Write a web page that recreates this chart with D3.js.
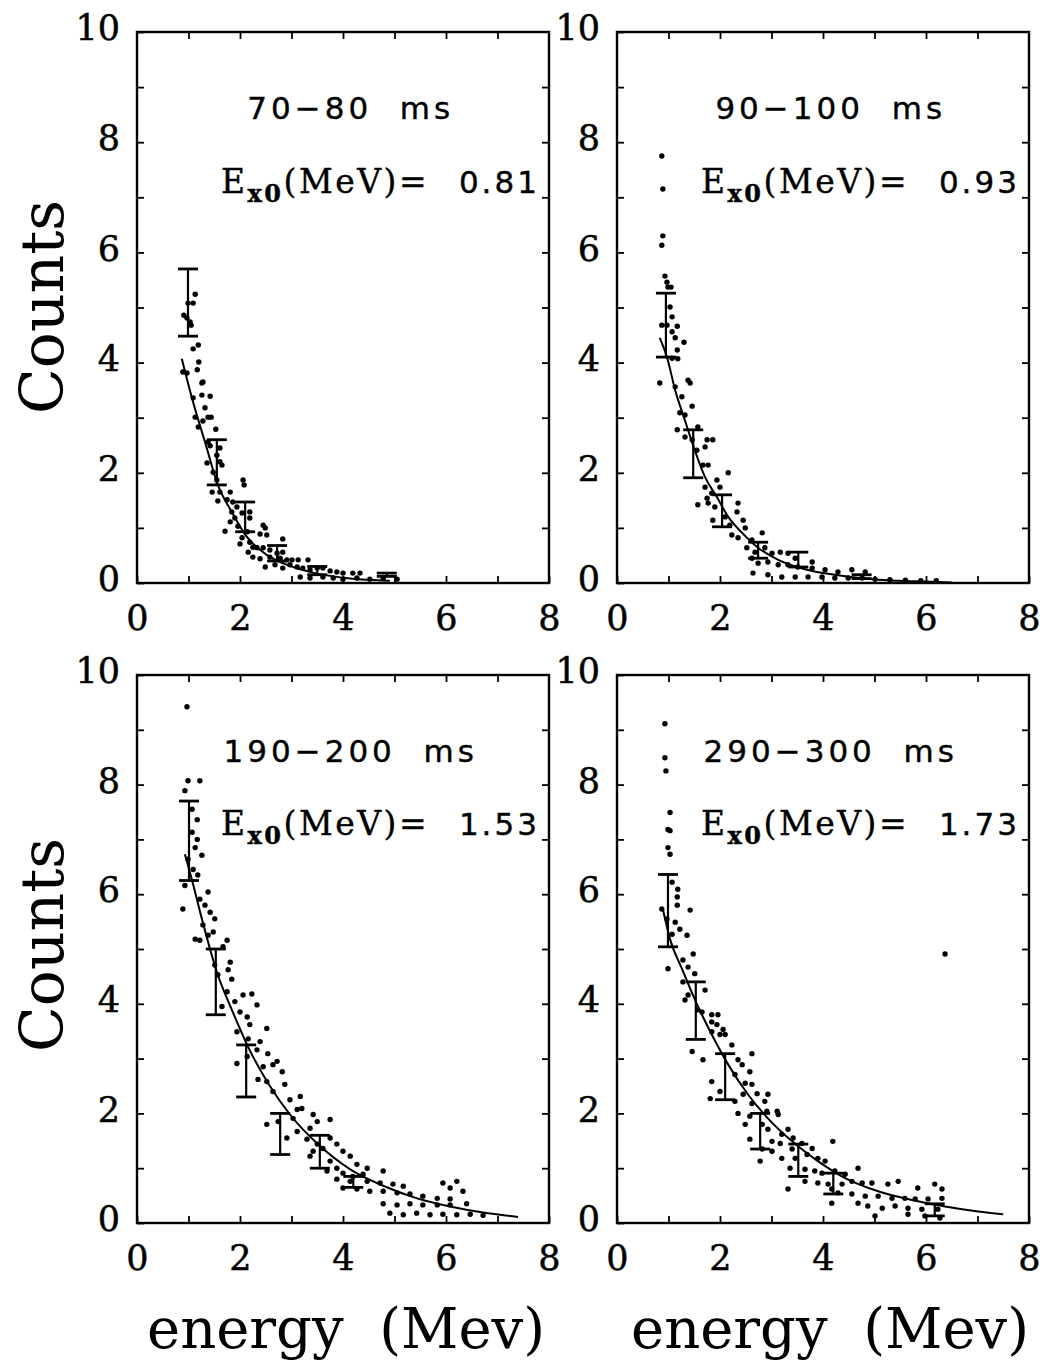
<!DOCTYPE html>
<html>
<head>
<meta charset="utf-8">
<script src="https://cdn.jsdelivr.net/npm/d3@7"></script>
<style>
  body { margin: 0; background: #fff; }
  text { fill: #000; white-space: pre; }
</style>
</head>
<body>
<div id="chart"></div>
<script>
// panel titles and fitted slope values
const titles = ["70\u221280  ms", "90\u2212100  ms", "190\u2212200  ms", "290\u2212300  ms"];
const e0Values = ["0.81", "0.93", "1.53", "1.73"];
const xTickLabels = [0, 2, 4, 6, 8];
const yTickLabels = [0, 2, 4, 6, 8, 10];

// 70-80 ms : [energy, counts]
const dots70 = [[1.13,5.24],[1.09,5.08],[0.99,5.08],[0.91,4.86],[1.03,4.74],[1.05,4.68],[0.97,4.81],[1.19,4.32],[1.09,4.25],[1.20,4.01],[1.17,3.87],[0.89,3.83],[0.97,3.81],[1.28,3.65],[1.26,3.63],[1.26,3.41],[1.42,3.39],[1.09,3.36],[1.32,3.18],[1.13,3.01],[1.38,3.01],[1.44,3.01],[1.28,2.94],[1.19,2.83],[1.53,2.79],[1.38,2.56],[1.42,2.49],[1.61,2.45],[1.55,2.32],[1.61,2.20],[1.36,2.18],[1.65,2.14],[1.48,2.01],[1.55,1.87],[2.06,1.87],[2.08,1.78],[1.46,1.65],[1.61,1.65],[1.81,1.65],[1.57,1.49],[1.75,1.51],[1.86,1.47],[1.94,1.38],[2.04,1.27],[1.84,1.29],[1.90,1.18],[1.81,1.11],[2.19,1.18],[2.19,1.29],[1.96,1.03],[1.71,0.94],[2.45,1.05],[2.49,1.00],[2.14,0.93],[2.39,0.89],[2.52,0.87],[2.04,0.82],[2.19,0.74],[2.00,0.71],[2.83,0.80],[2.25,0.65],[2.33,0.64],[2.45,0.64],[2.58,0.60],[2.16,0.56],[2.72,0.54],[2.83,0.56],[2.25,0.47],[2.39,0.44],[2.58,0.47],[2.78,0.45],[2.91,0.42],[3.01,0.42],[3.13,0.42],[3.32,0.42],[2.49,0.29],[2.68,0.33],[2.83,0.27],[2.97,0.33],[3.11,0.29],[3.22,0.27],[3.36,0.24],[3.50,0.27],[3.61,0.27],[3.75,0.22],[3.88,0.20],[4.00,0.18],[4.19,0.18],[4.33,0.18],[3.17,0.11],[3.36,0.09],[3.61,0.11],[3.81,0.09],[4.00,0.07],[4.27,0.09],[4.52,0.07],[4.78,0.09],[5.05,0.07]];
const curve70 = [[0.87,4.07],[1.09,3.28],[1.32,2.56],[1.57,1.78],[1.84,1.29],[2.13,0.84],[2.52,0.51],[2.97,0.31],[3.50,0.17],[4.14,0.08],[4.91,0.04]];
const bars70 = [[0.99,4.48,5.70],[1.55,1.78,2.60],[2.10,0.93,1.47],[2.72,0.40,0.68],[3.50,0.15,0.30],[4.85,0.12,0.18]];

// 90-100 ms
const dots90 = [[0.87,7.75],[0.89,7.15],[0.89,6.30],[0.87,6.13],[0.93,5.57],[0.97,5.46],[0.99,5.37],[1.05,5.37],[1.03,5.01],[1.07,4.83],[0.97,4.68],[1.17,4.66],[0.87,4.68],[1.07,4.56],[1.13,4.45],[1.30,4.37],[1.17,4.23],[1.18,4.07],[1.07,4.08],[0.83,3.63],[1.38,3.68],[1.42,3.63],[1.13,3.56],[1.26,3.38],[1.46,3.21],[1.22,3.09],[1.32,3.05],[1.17,2.78],[1.57,2.83],[1.32,2.65],[1.46,2.60],[1.75,2.60],[1.86,2.60],[1.71,2.47],[1.55,2.41],[1.67,2.14],[1.77,2.14],[2.16,2.00],[1.94,1.87],[1.71,1.74],[2.00,1.74],[1.84,1.63],[1.57,1.42],[1.75,1.54],[1.77,1.45],[1.90,1.38],[2.35,1.45],[2.33,1.29],[1.86,1.14],[2.10,1.20],[2.19,1.05],[2.45,1.14],[2.49,1.00],[2.23,0.87],[2.35,0.82],[2.62,0.78],[2.82,0.91],[2.52,0.64],[2.68,0.56],[2.87,0.64],[3.01,0.54],[3.17,0.56],[3.32,0.54],[3.46,0.45],[3.79,0.38],[2.62,0.45],[2.74,0.36],[2.93,0.38],[3.13,0.33],[3.32,0.33],[3.51,0.29],[3.79,0.27],[4.04,0.24],[4.29,0.20],[4.56,0.24],[4.82,0.20],[2.64,0.18],[2.93,0.15],[3.20,0.11],[3.46,0.11],[3.71,0.11],[3.98,0.11],[4.23,0.09],[4.49,0.09],[4.76,0.09],[5.01,0.07],[5.30,0.06],[5.60,0.05],[5.90,0.04],[6.20,0.04]];
const curve90 = [[0.83,4.45],[0.97,4.10],[1.13,3.50],[1.32,2.95],[1.51,2.41],[1.71,1.92],[1.94,1.56],[2.16,1.20],[2.43,0.91],[2.74,0.64],[3.13,0.42],[3.65,0.25],[4.29,0.14],[5.07,0.06],[5.80,0.03],[6.50,0.01]];
const bars90 = [[0.95,4.10,5.26],[1.48,1.91,2.78],[2.04,1.02,1.60],[2.74,0.45,0.74],[3.52,0.29,0.56],[4.75,0.08,0.15]];

// 190-200 ms
const dots190 = [[0.97,9.42],[0.99,8.07],[1.22,8.07],[0.93,7.89],[1.07,7.55],[1.17,7.36],[1.07,7.13],[1.17,7.00],[1.13,6.85],[1.26,6.71],[0.99,6.64],[1.09,6.45],[1.18,6.35],[0.93,6.16],[1.38,6.04],[1.22,5.91],[1.32,5.80],[0.89,5.73],[1.42,5.67],[1.51,5.55],[1.28,5.44],[1.48,5.31],[1.38,5.25],[1.13,5.18],[1.22,5.16],[1.75,5.16],[1.67,5.04],[1.81,4.76],[1.51,4.71],[1.77,4.62],[1.57,4.53],[1.84,4.45],[1.75,4.22],[2.06,4.16],[2.23,4.18],[1.65,3.95],[1.90,4.04],[2.33,3.98],[2.00,3.85],[2.14,3.76],[2.19,3.62],[2.52,3.55],[1.94,3.49],[2.16,3.36],[2.39,3.31],[2.33,3.16],[2.54,3.09],[2.14,3.04],[2.72,2.95],[1.94,2.91],[2.45,2.85],[2.64,2.89],[2.82,2.76],[2.35,2.62],[2.52,2.58],[2.87,2.53],[3.17,2.31],[2.64,2.40],[2.97,2.25],[3.11,2.07],[2.52,1.80],[2.74,1.85],[3.03,1.91],[3.20,2.09],[3.42,1.98],[3.50,1.85],[3.36,1.73],[3.75,1.89],[3.11,1.67],[2.91,1.55],[3.30,1.53],[3.50,1.44],[3.42,1.31],[3.61,1.36],[3.75,1.55],[3.88,1.44],[4.00,1.31],[4.14,1.22],[3.36,1.22],[3.75,1.13],[3.88,1.00],[4.27,1.07],[4.47,1.00],[4.78,0.95],[3.69,0.95],[4.00,0.91],[4.19,0.85],[4.39,0.89],[3.88,0.80],[4.14,0.76],[4.47,0.76],[4.72,0.73],[4.97,0.71],[5.17,0.67],[4.00,0.64],[4.27,0.62],[4.52,0.58],[4.78,0.58],[5.05,0.55],[5.30,0.53],[5.55,0.49],[5.83,0.45],[6.08,0.44],[5.94,0.73],[6.21,0.76],[6.08,0.64],[6.33,0.58],[4.78,0.35],[5.05,0.33],[5.30,0.35],[5.55,0.33],[5.83,0.33],[6.08,0.33],[6.40,0.35],[4.91,0.18],[5.17,0.15],[5.43,0.18],[5.69,0.15],[5.94,0.16],[6.21,0.15],[6.47,0.16],[6.72,0.14]];
const curve190 = [[0.93,6.73],[1.07,6.25],[1.26,5.55],[1.55,4.58],[1.86,3.85],[2.19,3.15],[2.58,2.50],[2.97,1.98],[3.50,1.45],[4.14,0.98],[4.78,0.68],[5.44,0.45],[6.08,0.30],[6.72,0.19],[7.40,0.11]];
const bars190 = [[1.01,6.25,7.70],[1.53,3.80,5.00],[2.12,2.30,3.25],[2.78,1.25,2.00],[3.55,1.00,1.60],[4.20,0.65,0.85]];

// 290-300 ms
const dots290 = [[0.93,9.11],[0.93,8.49],[0.95,8.25],[1.03,7.49],[0.99,7.18],[1.03,7.16],[0.99,6.85],[1.03,6.73],[1.07,6.22],[1.18,6.09],[1.17,5.95],[1.17,5.80],[1.42,5.71],[0.87,5.73],[0.97,5.55],[1.13,5.49],[1.22,5.36],[1.36,5.25],[1.07,5.27],[1.48,4.91],[1.28,4.80],[0.99,4.64],[1.38,4.67],[1.51,4.55],[1.28,4.40],[1.71,4.25],[1.38,4.16],[1.32,4.07],[1.57,3.89],[1.65,3.85],[1.84,3.80],[1.96,3.80],[1.84,3.67],[1.94,3.62],[2.06,3.53],[1.84,3.49],[2.10,3.44],[2.00,3.44],[2.23,3.25],[1.46,3.13],[1.67,2.98],[2.62,3.09],[2.35,2.98],[2.43,2.89],[2.58,2.76],[1.84,2.58],[2.29,2.71],[2.49,2.55],[2.62,2.53],[2.00,2.40],[1.81,2.27],[2.45,2.35],[2.72,2.36],[2.93,2.35],[2.29,2.22],[2.62,2.18],[2.87,2.22],[2.91,2.04],[3.11,2.04],[3.13,1.98],[2.35,2.00],[2.58,1.95],[2.82,1.80],[2.49,1.80],[2.93,1.71],[3.32,1.71],[3.20,1.62],[2.58,1.53],[3.42,1.55],[3.01,1.49],[3.17,1.45],[3.59,1.45],[2.82,1.35],[3.01,1.31],[3.40,1.35],[3.79,1.36],[4.19,1.49],[2.78,1.13],[3.20,1.18],[3.46,1.18],[3.69,1.25],[3.90,1.18],[4.04,1.13],[3.36,1.00],[3.65,0.98],[3.84,0.95],[3.98,0.91],[4.23,0.95],[4.43,0.89],[4.68,1.00],[3.65,0.76],[3.90,0.73],[4.10,0.71],[4.37,0.71],[4.56,0.76],[4.76,0.73],[4.95,0.73],[5.26,0.71],[5.46,0.76],[5.84,0.64],[6.17,0.71],[6.31,0.62],[3.32,0.62],[4.17,0.62],[4.29,0.55],[4.56,0.53],[4.82,0.49],[5.07,0.49],[5.34,0.45],[5.59,0.45],[5.79,0.44],[6.04,0.44],[6.31,0.45],[4.17,0.36],[4.68,0.36],[4.87,0.31],[5.15,0.27],[5.40,0.31],[5.65,0.27],[5.92,0.25],[6.23,0.25],[5.01,0.13],[5.65,0.16],[5.98,0.13],[6.27,0.09],[6.37,4.91]];
const curve290 = [[0.89,5.73],[1.03,5.18],[1.26,4.64],[1.53,4.04],[1.84,3.44],[2.16,2.89],[2.54,2.35],[2.93,1.91],[3.40,1.49],[3.90,1.13],[4.43,0.82],[5.07,0.58],[5.73,0.42],[6.37,0.30],[7.01,0.21],[7.50,0.16]];
const bars290 = [[0.99,5.04,6.36],[1.53,3.35,4.40],[2.10,2.25,3.09],[2.78,1.35,2.00],[3.52,0.85,1.44],[4.20,0.53,0.91],[6.17,0.13,0.35]];

const serif = "'DejaVu Serif', serif";
const sans = "'DejaVu Sans', sans-serif";

// frame boxes in page pixels
const panelW = 412;
const panels = [
    { title: titles[0], e0: e0Values[0], dots: dots70, curve: curve70, bars: bars70, left: 137, top: 32, h: 551 },
    { title: titles[1], e0: e0Values[1], dots: dots90, curve: curve90, bars: bars90, left: 617, top: 32, h: 551 },
    { title: titles[2], e0: e0Values[2], dots: dots190, curve: curve190, bars: bars190, left: 137, top: 675, h: 548 },
    { title: titles[3], e0: e0Values[3], dots: dots290, curve: curve290, bars: bars290, left: 617, top: 675, h: 548 },
];

const svg = d3.select("#chart")
    .append("svg")
    .attr("width", 1050)
    .attr("height", 1368);

svg.append("rect").attr("width", 1050).attr("height", 1368).attr("fill", "#fff");

panels.forEach(p => {
    const x = d3.scaleLinear().domain([0, 8]).range([0, panelW]);
    const y = d3.scaleLinear().domain([0, 10]).range([p.h, 0]);

    const g = svg.append("g")
        .attr("transform", `translate(${p.left},${p.top})`);

    // inward ticks on all four sides
    const fmt = vals => d => vals.includes(d) ? d : "";
    g.append("g")
        .attr("transform", `translate(0,${p.h})`)
        .call(d3.axisBottom(x).tickValues(d3.range(0, 9)).tickSize(-7).tickPadding(22).tickFormat(fmt(xTickLabels)));
    g.append("g")
        .call(d3.axisTop(x).tickValues(d3.range(1, 8)).tickSize(-7).tickFormat(""));
    g.append("g")
        .call(d3.axisLeft(y).tickValues(d3.range(0, 11)).tickSize(-7).tickPadding(17).tickFormat(fmt(yTickLabels)));
    g.append("g")
        .attr("transform", `translate(${panelW},0)`)
        .call(d3.axisRight(y).tickValues(d3.range(1, 10)).tickSize(-7).tickFormat(""));

    g.selectAll(".domain").remove();
    g.selectAll(".tick line").attr("stroke", "#000").attr("stroke-width", 1.8);
    g.selectAll(".tick text")
        .attr("fill", "#000")
        .style("font-family", serif)
        .style("font-size", "35px")
        .style("stroke", "#000")
        .style("stroke-width", "0.5px");
    g.selectAll(".tick text").filter(function() { return d3.select(this).attr("dy") === "0.32em"; })
        .attr("dy", "0.22em");

    // frame
    g.append("rect")
        .attr("width", panelW)
        .attr("height", p.h)
        .attr("fill", "none")
        .attr("stroke", "#000")
        .attr("stroke-width", 2.4);

    // scatter
    g.selectAll("circle.dot")
        .data(p.dots)
        .enter()
        .append("circle")
        .attr("class", "dot")
        .attr("cx", d => x(d[0]))
        .attr("cy", d => y(d[1]))
        .attr("r", 2.7)
        .attr("fill", "#000");

    // fitted curve
    g.append("path")
        .datum(p.curve)
        .attr("fill", "none")
        .attr("stroke", "#000")
        .attr("stroke-width", 2)
        .attr("d", d3.line().x(d => x(d[0])).y(d => y(d[1])).curve(d3.curveMonotoneX));

    // error bars
    const eb = g.selectAll("g.bar").data(p.bars).enter().append("g").attr("class", "bar");
    eb.append("line")
        .attr("x1", d => x(d[0])).attr("x2", d => x(d[0]))
        .attr("y1", d => y(d[1])).attr("y2", d => y(d[2]))
        .attr("stroke", "#000").attr("stroke-width", 2.2);
    [1, 2].forEach(i => {
        eb.append("line")
            .attr("x1", d => x(d[0]) - 10).attr("x2", d => x(d[0]) + 10)
            .attr("y1", d => y(d[i])).attr("y2", d => y(d[i]))
            .attr("stroke", "#000").attr("stroke-width", 2.8);
    });

    // annotations
    g.append("text")
        .attr("x", x(4.15))
        .attr("y", y(8.42))
        .attr("text-anchor", "middle")
        .style("font-family", sans)
        .style("font-size", "31px")
        .style("letter-spacing", "4px")
        .style("stroke", "#000")
        .style("stroke-width", "0.4px")
        .text(p.title);

    const t = g.append("text")
        .attr("x", x(1.63))
        .attr("y", y(7.08))
        .style("font-family", serif)
        .style("font-size", "33px")
        .style("letter-spacing", "2.5px")
        .style("stroke", "#000")
        .style("stroke-width", "0.4px");
    t.append("tspan").text("E");
    t.append("tspan").attr("dy", 9).style("font-size", "24px").style("font-weight", "bold").text("x0");
    t.append("tspan").attr("dy", -9).text("(MeV)=");
    t.append("tspan")
        .attr("x", x(6.25))
        .style("font-family", sans)
        .style("font-size", "31px")
        .style("letter-spacing", "3px")
        .text(p.e0);
});

// axis titles
[307, 945].forEach(cy => {
    svg.append("text")
        .attr("transform", `translate(63,${cy}) rotate(-90)`)
        .attr("text-anchor", "middle")
        .style("font-family", serif)
        .style("font-size", "60px")
        .text("Counts");
});

[346, 830].forEach(cx => {
    svg.append("text")
        .attr("x", cx)
        .attr("y", 1348)
        .attr("text-anchor", "middle")
        .style("font-family", serif)
        .style("font-size", "56px")
        .text("energy  (Mev)");
});
</script>
</body>
</html>
